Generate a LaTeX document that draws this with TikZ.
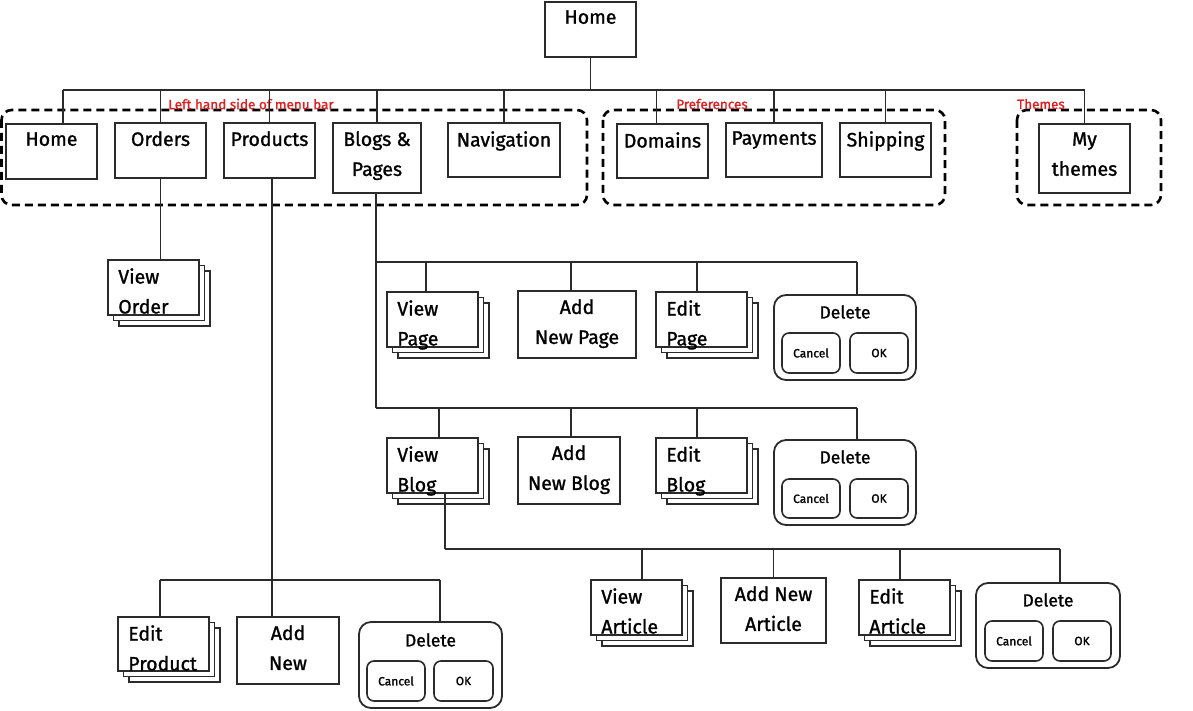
\documentclass[tikz,border=0pt]{standalone}
\usepackage{fontspec}
\setmainfont{Fira Sans}[FakeBold=1.2]
\newfontfamily\boldish{Fira Sans}[FakeBold=1.2]
\usetikzlibrary{shadows}
\definecolor{ink}{HTML}{2B2B2B}
\definecolor{lab}{HTML}{E02020}
\tikzset{
 box/.style={draw=ink, line width=1.8pt, fill=white, inner sep=0pt},
 stackbox/.style={box, double copy shadow={shadow xshift=5.5pt, shadow yshift=-5.5pt, draw=ink, line width=1.6pt, fill=white}},
 dlg/.style={box, rounded corners=12pt},
 btn/.style={box, line width=1.6pt, rounded corners=7pt},
 grp/.style={draw=black, line width=2.6pt, dash pattern=on 8pt off 5pt, rounded corners=10pt},
 wire/.style={draw=ink, line width=1.4pt},
 txt/.style={font=\boldish\fontsize{19.5}{30}\selectfont, text=black, inner sep=0pt, align=center},
 ltxt/.style={txt, align=left},
 dtxt/.style={font=\boldish\fontsize{17.5}{20}\selectfont, text=black, inner sep=0pt},
 btxt/.style={font=\boldish\fontsize{12}{14}\selectfont, text=black, inner sep=0pt},
 grplab/.style={font=\fontsize{13.5}{15}\selectfont, text=lab, inner sep=0pt},
}
\newcommand\Bx[6][box]{\node[#1, minimum width={(#5-#3)*1pt}, minimum height={(#6-#4)*1pt}] (#2) at ({(#3+#5)/2},{(#4+#6)/2}) {};}
\newcommand\Ct[2]{\node[txt, anchor=north] (#1t) at ([yshift=-9pt]#1.north) {#2};}
\newcommand\Lt[2]{\node[ltxt, anchor=north west] (#1t) at ([shift={(11pt,-9pt)}]#1.north west) {#2};}
\begin{document}
\begin{tikzpicture}[x=1pt,y=-1pt]
\useasboundingbox (0,0) rectangle (1193,711);
% groups
\draw[grp] (1.5,110) rectangle (587,205);
\draw[grp] (603,110) rectangle (945,205);
\draw[grp] (1017,110) rectangle (1161,205);
\node[grplab] (g1l) at (251,104) {Left hand side of menu bar};
\node[grplab] (g2l) at (712,104) {Preferences};
\node[grplab] (g3l) at (1041,104) {Themes};
% bus coordinates
\coordinate (bus0) at (0,90);
\coordinate (busA) at (0,262);
\coordinate (busB) at (0,408);
\coordinate (busC) at (0,549);
\coordinate (busP) at (0,580);
% top level
\Bx{top}{545}{2}{636}{57} \Ct{top}{Home}
\Bx{lhome}{6}{124}{97}{179} \Ct{lhome}{Home}
\Bx{orders}{115}{123}{206}{178} \Ct{orders}{Orders}
\Bx{products}{224}{123}{315}{178} \Ct{products}{Products}
\Bx{blogs}{333}{123}{421}{193} \Ct{blogs}{Blogs \&\\Pages}
\Bx{nav}{448}{123}{560}{177} \Ct{nav}{Navigation}
\Bx{domains}{617}{124}{708}{178} \Ct{domains}{Domains}
\Bx{payments}{726}{123}{822}{177} \Ct{payments}{Payments}
\Bx{shipping}{840}{123}{931}{177} \Ct{shipping}{Shipping}
\Bx{themes}{1039}{124}{1130}{193} \Ct{themes}{My\\themes}
% orders
\Bx[stackbox]{vorder}{108}{260}{199}{315} \Lt{vorder}{View\\Order}
% products
\Bx[stackbox]{eprod}{118}{617}{209}{671} \Lt{eprod}{Edit\\Product}
\Bx{addnew}{237}{617}{339}{684} \Ct{addnew}{Add\\New}
\Bx[dlg]{delprod}{359}{622}{502}{708}
\node[dtxt, anchor=north] (delprodt) at ([yshift=-12pt]delprod.north) {Delete};
\Bx[btn]{delprodc}{367}{661}{425}{701} \node[btxt] (delprodct) at (delprodc) {Cancel};
\Bx[btn]{delprodo}{434}{661}{493}{701} \node[btxt] (delprodot) at (delprodo) {OK};
% pages
\Bx[stackbox]{vpage}{387}{292}{478}{347} \Lt{vpage}{View\\Page}
\Bx{addpage}{518}{291}{636}{358} \Ct{addpage}{Add\\New Page}
\Bx[stackbox]{epage}{656}{292}{747}{347} \Lt{epage}{Edit\\Page}
\Bx[dlg]{delpage}{774}{295}{916}{380}
\node[dtxt, anchor=north] (delpaget) at ([yshift=-11pt]delpage.north) {Delete};
\Bx[btn]{delpagec}{782}{333}{840}{373} \node[btxt] (delpagect) at (delpagec) {Cancel};
\Bx[btn]{delpageo}{850}{333}{908}{373} \node[btxt] (delpageot) at (delpageo) {OK};
% blogs
\Bx[stackbox]{vblog}{387}{438}{478}{493} \Lt{vblog}{View\\Blog}
\Bx{addblog}{518}{437}{620}{504} \Ct{addblog}{Add\\New Blog}
\Bx[stackbox]{eblog}{656}{438}{747}{493} \Lt{eblog}{Edit\\Blog}
\Bx[dlg]{delblog}{774}{440}{916}{525}
\node[dtxt, anchor=north] (delblogt) at ([yshift=-11pt]delblog.north) {Delete};
\Bx[btn]{delblogc}{782}{479}{840}{518} \node[btxt] (delblogct) at (delblogc) {Cancel};
\Bx[btn]{delblogo}{850}{479}{908}{518} \node[btxt] (delblogot) at (delblogo) {OK};
% articles
\Bx[stackbox]{vart}{591}{580}{682}{635} \Lt{vart}{View\\Article}
\Bx{addart}{721}{578}{826}{643} \Ct{addart}{Add New\\Article}
\Bx[stackbox]{eart}{859}{580}{950}{635} \Lt{eart}{Edit\\Article}
\Bx[dlg]{delart}{976}{583}{1120}{668}
\node[dtxt, anchor=north] (delartt) at ([yshift=-11pt]delart.north) {Delete};
\Bx[btn]{delartc}{985}{621}{1043}{661} \node[btxt] (delartct) at (delartc) {Cancel};
\Bx[btn]{delarto}{1053}{621}{1111}{661} \node[btxt] (delartot) at (delarto) {OK};
% ---- connectors
\draw[wire] (top.south) -- (top.south |- bus0);
\draw[wire] ([xshift=11.5pt]lhome.north |- bus0) -- (themes.north |- bus0);
\draw[wire] ([xshift=11.5pt]lhome.north) -- ([xshift=11.5pt]lhome.north |- bus0);
\foreach \n in {orders,products,blogs,nav,payments,shipping,themes}
  \draw[wire] (\n.north) -- (\n.north |- bus0);
\draw[wire] ([xshift=-6pt]domains.north) -- ([xshift=-6pt]domains.north |- bus0);
% orders
\draw[wire] (orders.south) -- (orders.south |- vorder.north);
% products
\draw[wire] ([xshift=2.5pt]products.south) -- ([xshift=2.5pt]products.south |- addnew.north);
\draw[wire] ([xshift=-3.5pt]eprod.north |- busP) -- ([xshift=9.5pt]delprod.north |- busP);
\draw[wire] ([xshift=-3.5pt]eprod.north) -- ([xshift=-3.5pt]eprod.north |- busP);
\draw[wire] ([xshift=9.5pt]delprod.north) -- ([xshift=9.5pt]delprod.north |- busP);
% blogs & pages
\draw[wire] ([xshift=-1pt]blogs.south) -- ([xshift=-1pt]blogs.south |- busB);
\draw[wire] ([xshift=-1pt]blogs.south |- busA) -- ([xshift=12pt]delpage.north |- busA);
\draw[wire] ([xshift=-1pt]blogs.south |- busB) -- ([xshift=12pt]delblog.north |- busB);
\draw[wire] ([xshift=-6.5pt]vpage.north) -- ([xshift=-6.5pt]vpage.north |- busA);
\draw[wire] ([xshift=-6pt]addpage.north) -- ([xshift=-6pt]addpage.north |- busA);
\draw[wire] ([xshift=-4.5pt]epage.north) -- ([xshift=-4.5pt]epage.north |- busA);
\draw[wire] ([xshift=12pt]delpage.north) -- ([xshift=12pt]delpage.north |- busA);
\draw[wire] ([xshift=6.5pt]vblog.north) -- ([xshift=6.5pt]vblog.north |- busB);
\draw[wire] ([xshift=2pt]addblog.north) -- ([xshift=2pt]addblog.north |- busB);
\draw[wire] ([xshift=-4.5pt]eblog.north) -- ([xshift=-4.5pt]eblog.north |- busB);
\draw[wire] ([xshift=12pt]delblog.north) -- ([xshift=12pt]delblog.north |- busB);
% articles
\draw[wire] ([xshift=12.5pt]vblog.south) -- ([xshift=12.5pt]vblog.south |- busC);
\draw[wire] ([xshift=12.5pt]vblog.south |- busC) -- ([xshift=12pt]delart.north |- busC);
\draw[wire] ([xshift=5.5pt]vart.north) -- ([xshift=5.5pt]vart.north |- busC);
\draw[wire] (addart.north) -- (addart.north |- busC);
\draw[wire] ([xshift=-4.5pt]eart.north) -- ([xshift=-4.5pt]eart.north |- busC);
\draw[wire] ([xshift=12pt]delart.north) -- ([xshift=12pt]delart.north |- busC);
\end{tikzpicture}
\end{document}
